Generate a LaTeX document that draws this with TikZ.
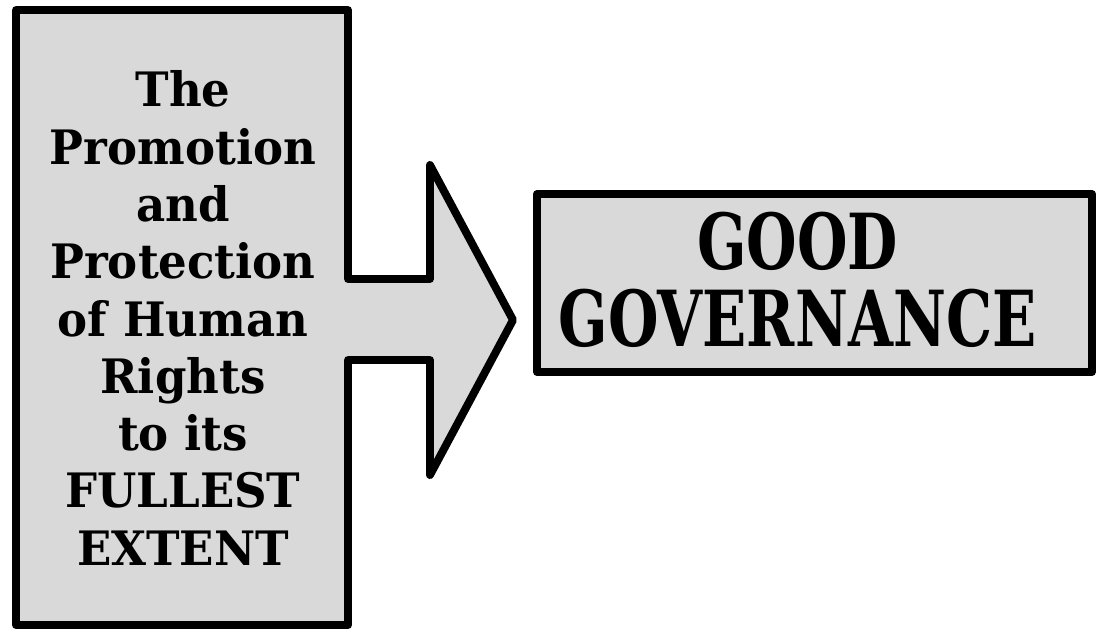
\documentclass[tikz,border=0pt]{standalone}
\usepackage{fontspec}
\newfontfamily\boxfont{DejaVu Serif}[FakeStretch=0.95]
\newfontfamily\govfont{DejaVu Serif}[FakeStretch=0.75]
\usetikzlibrary{positioning}
\definecolor{boxgray}{HTML}{D9D9D9}

\begin{document}
\begin{tikzpicture}[
    x=0.02cm,
    y=-0.02cm,
    outline/.style={
        draw,
        fill=boxgray,
        line width=4.5pt,
        line join=round
    },
    boxtext/.style={
        align=center,
        inner sep=0pt
    }
]
\useasboundingbox (0,0) rectangle (1097,632);

% Left box, the arrow grows out of its right side
\draw [outline] (16,10) -- (348,10) -- (348,279) -- (430,279) -- (430,165)
    -- (513,320) -- (430,475) -- (430,360) -- (348,360) -- (348,625)
    -- (16,625) -- cycle;

\node [boxtext, font=\boxfont\bfseries\fontsize{27}{32.6}\selectfont] (rights) at (183,318)
    {The\\Promotion\\and\\Protection\\of Human\\Rights\\to its\\FULLEST\\EXTENT};

% Right box
\node [outline, minimum width=11.1cm, minimum height=3.56cm] (govbox) at (814.5,283) {};
\node [boxtext, font=\govfont\bfseries\fontsize{44}{43.7}\selectfont] (govtext)
    at ([xshift=-0.34cm, yshift=0.06cm]govbox.center) {GOOD\\GOVERNANCE};

\end{tikzpicture}
\end{document}
